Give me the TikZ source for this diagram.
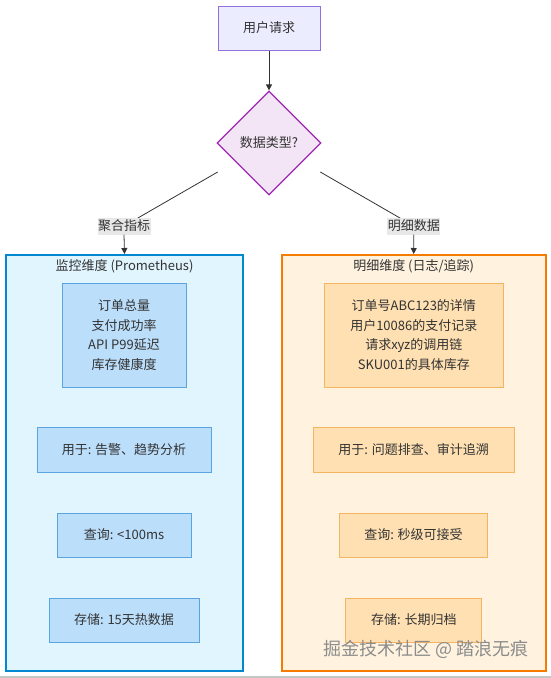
\documentclass[tikz,border=0pt]{standalone}
\usepackage{fontspec}
\newfontfamily\cjk{Noto Sans CJK SC}
\usetikzlibrary{shapes.geometric,arrows.meta}
\definecolor{txt}{HTML}{333333}
\definecolor{topfill}{HTML}{ECECFF}
\definecolor{topline}{HTML}{9370DB}
\definecolor{qfill}{HTML}{F3E5F5}
\definecolor{qline}{HTML}{9C27B0}
\definecolor{bcfill}{HTML}{E1F5FE}
\definecolor{bcline}{HTML}{0288D1}
\definecolor{bnfill}{HTML}{BBDEFB}
\definecolor{bnline}{HTML}{5AA5E0}
\definecolor{ocfill}{HTML}{FFF3E0}
\definecolor{ocline}{HTML}{F57C00}
\definecolor{onfill}{HTML}{FFE0B2}
\definecolor{online}{HTML}{F5B461}
\definecolor{lblbg}{HTML}{E8E8E8}
\definecolor{edge}{HTML}{333333}
\tikzset{
  base/.style={font=\cjk\fontsize{13}{19.5}\selectfont, text=txt, inner sep=0pt, align=center},
  topbox/.style={base, draw=topline, fill=topfill, line width=1pt},
  qbox/.style={base, shape=diamond, draw=qline, fill=qfill, line width=1.2pt, minimum size=104pt},
  bluecl/.style={draw=bcline, fill=bcfill, line width=2pt, inner sep=0pt},
  orangecl/.style={draw=ocline, fill=ocfill, line width=2pt, inner sep=0pt},
  bluenode/.style={base, draw=bnline, fill=bnfill, line width=1pt},
  orangenode/.style={base, draw=online, fill=onfill, line width=1pt},
  cltitle/.style={base},
  elabel/.style={base, fill=lblbg, minimum width=53pt, minimum height=17pt},
  conn/.style={draw=edge, line width=0.8pt},
  arr/.style={conn, -{Triangle[length=6pt,width=6pt]}},
}
\begin{document}
\begin{tikzpicture}[x=1pt,y=-1pt]
\useasboundingbox (0,0) rectangle (551,678);
\fill[white] (0,0) rectangle (551,678);
\fill[gray!45] (0,676) rectangle (551,678);

% clusters
\node[bluecl, minimum width=237pt, minimum height=416pt] (ca) at (124.5,463) {};
\node[orangecl, minimum width=264pt, minimum height=416pt] (cb) at (413.7,463) {};
\node[cltitle] (ta) at (124.5,266) {监控维度 (Prometheus)};
\node[cltitle] (tb) at (413.7,266) {明细维度 (日志/追踪)};

% top
\node[topbox, minimum width=102pt, minimum height=44pt] (req) at (269,28) {用户请求};
\node[qbox] (q) at (269,143) {数据类型?};
\draw[arr] (req.south) -- (q.north);

% edges with labels
\coordinate (qa) at (217.7,172);
\coordinate (qb) at (320.3,172);
\draw[conn] (qa) -- (124,226);
\draw[conn] (qb) -- (413.8,226);
\node[elabel] (la) at (124,226) {聚合指标};
\node[elabel] (lb) at (413.8,226) {明细数据};
\draw[arr] (la.south) -- (ca.north);
\draw[arr] (lb.south) -- (cb.north);

% left nodes
\node[bluenode, minimum width=124pt, minimum height=104pt] (b1) at (124,335) {订单总量\\支付成功率\\API P99延迟\\库存健康度};
\node[bluenode, minimum width=174pt, minimum height=45pt] (b2) at (124,449.5) {用于: 告警、趋势分析};
\node[bluenode, minimum width=134pt, minimum height=44pt] (b3) at (124,535) {查询: <100ms};
\node[bluenode, minimum width=150pt, minimum height=44pt] (b4) at (124,620) {存储: 15天热数据};

% right nodes
\node[orangenode, minimum width=179pt, minimum height=104pt] (r1) at (413.8,335) {订单号ABC123的详情\\用户10086的支付记录\\请求xyz的调用链\\SKU001的具体库存};
\node[orangenode, minimum width=201pt, minimum height=45pt] (r2) at (413.7,449.5) {用于: 问题排查、审计追溯};
\node[orangenode, minimum width=148pt, minimum height=44pt] (r3) at (413.5,535) {查询: 秒级可接受};
\node[orangenode, minimum width=136pt, minimum height=44pt] (r4) at (413.8,620) {存储: 长期归档};

% watermark
\node[font=\cjk\fontsize{18}{20}\selectfont, text=black!45, inner sep=0pt] (wm) at (426,649) {掘金技术社区 @ 踏浪无痕};
\end{tikzpicture}
\end{document}
